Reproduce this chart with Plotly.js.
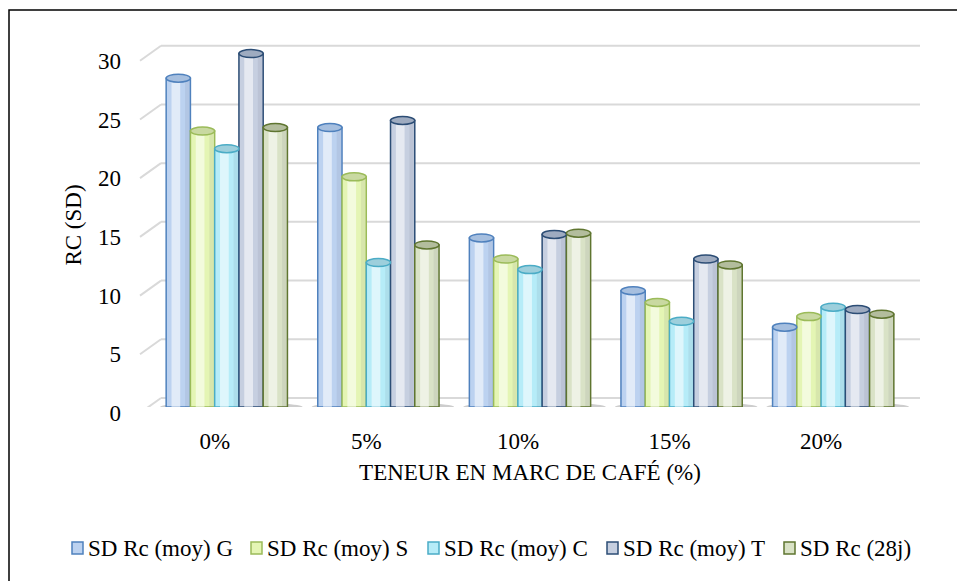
<!DOCTYPE html>
<html>
<head>
<meta charset="utf-8">
<script src="https://cdn.plot.ly/plotly-3.0.1.min.js"></script>
<style>
  html, body { margin: 0; padding: 0; background: #ffffff; }
  #chart { width: 957px; height: 581px; }
</style>
</head>
<body>
<div id="chart"></div>
<script>
// Coffee-ground content (x categories)
const categories = ['0%', '5%', '10%', '15%', '20%'];

// Series names
const seriesNames = ['SD Rc (moy) G', 'SD Rc (moy) S', 'SD Rc (moy) C', 'SD Rc (moy) T', 'SD Rc (28j)'];

// RC (SD) values per series
const rcMoyG = [28.0, 23.8, 14.4, 9.9, 6.8];
const rcMoyS = [23.5, 19.6, 12.6, 8.9, 7.7];
const rcMoyC = [22.0, 12.3, 11.7, 7.3, 8.5];
const rcMoyT = [30.1, 24.4, 14.7, 12.6, 8.3];
const rc28j  = [23.8, 13.8, 14.8, 12.1, 7.9];

// Value-axis ticks
const yTicks = [0, 5, 10, 15, 20, 25, 30];

// Styling: body fill, outline, cap fill
const styles = [
  { fill: '#bcd2f0', line: '#4f81bd', cap: '#a6bfdf' },
  { fill: '#e4f5b4', line: '#9bbb59', cap: '#c9d9a1' },
  { fill: '#b6ecf8', line: '#4bacc6', cap: '#9dcfdc' },
  { fill: '#c6cfe0', line: '#2c4d75', cap: '#9eabc0' },
  { fill: '#d9e2c6', line: '#5f7530', cap: '#b3bd9d' }
];

const seriesValues = [rcMoyG, rcMoyS, rcMoyC, rcMoyT, rc28j];

const FONT = 'Liberation Serif, DejaVu Serif, Noto Serif, Tinos, Times New Roman, Times, serif';
const FS = 23;
const BARGAP = 0.2;
const nSeries = seriesValues.length;
const barW = (1 - BARGAP) / nSeries;

// Plot-area geometry
const W = 957, H = 581;
const M = { l: 151, r: 48, t: 43, b: 174 };
const plotW = W - M.l - M.r;
const plotH = H - M.t - M.b;
const FRONT_X = -11;  // front edge of the floor, relative to plot left (px)
const FRONT_Y = -6;   // front plane, relative to value level (px)
const BACK_X = 10;    // back wall, relative to plot left (px)
const BACK_Y = 9;     // back wall, relative to value level (px)
const GRID_END = 920 - M.l;

const traces = seriesValues.map((vals, s) => ({
  type: 'bar',
  name: seriesNames[s],
  x: categories,
  y: vals,
  marker: {
    color: styles[s].fill,
    line: { color: styles[s].line, width: 1.5 }
  },
  showlegend: false,
  hoverinfo: 'x+y+name'
}));

const shapes = [];

// Back-wall gridlines with their short receding segments
yTicks.forEach(v => {
  shapes.push({
    type: 'line', layer: 'below',
    xref: 'paper', xsizemode: 'pixel', xanchor: 0, x0: FRONT_X, x1: BACK_X,
    yref: 'y', ysizemode: 'pixel', yanchor: v, y0: FRONT_Y, y1: BACK_Y,
    line: { color: '#d9d9d9', width: 2 }
  });
  shapes.push({
    type: 'line', layer: 'below',
    xref: 'paper', xsizemode: 'pixel', xanchor: 0, x0: BACK_X, x1: GRID_END,
    yref: 'y', ysizemode: 'pixel', yanchor: v, y0: BACK_Y, y1: BACK_Y,
    line: { color: '#d9d9d9', width: 2 }
  });
});

// Soft floor shadow under each group
categories.forEach((c, i) => {
  shapes.push({
    type: 'circle', layer: 'below',
    xref: 'x', x0: i - 0.44, x1: i + 0.50,
    yref: 'y', ysizemode: 'pixel', yanchor: 0, y0: -5, y1: 5,
    fillcolor: 'rgba(90,90,90,0.30)', line: { width: 0 }
  });
});

// Cylinder shading (light band + shaded right edge) and elliptical caps
seriesValues.forEach((vals, s) => {
  vals.forEach((v, i) => {
    const center = i - (1 - BARGAP) / 2 + barW * (s + 0.5);
    shapes.push({
      type: 'rect', layer: 'above',
      xref: 'x', x0: center - barW * 0.28, x1: center + barW * 0.08,
      yref: 'y', y0: 0, y1: v,
      fillcolor: 'rgba(255,255,255,0.55)', line: { width: 0 }
    });
    shapes.push({
      type: 'rect', layer: 'above',
      xref: 'x', x0: center + barW * 0.28, x1: center + barW * 0.46,
      yref: 'y', y0: 0, y1: v,
      fillcolor: 'rgba(60,70,90,0.08)', line: { width: 0 }
    });
    shapes.push({
      type: 'circle', layer: 'above',
      xref: 'x', x0: center - barW / 2, x1: center + barW / 2,
      yref: 'y', ysizemode: 'pixel', yanchor: v, y0: -4, y1: 4,
      fillcolor: styles[s].cap,
      line: { color: styles[s].line, width: 1.5 }
    });
  });
});

// Chart frame
shapes.push({
  type: 'path', layer: 'above',
  xref: 'paper', xsizemode: 'pixel', xanchor: 0,
  yref: 'paper', ysizemode: 'pixel', yanchor: 1,
  path: `M ${9 - M.l} ${M.t - H - 5} L ${9 - M.l} ${M.t - 10} L ${W - M.l + 5} ${M.t - 10}`,
  line: { color: '#000000', width: 1.5 }
});

// Legend row: swatch + series name
const legendKeyX = [72, 251, 428, 607, 784];
const legendY = 548;
const annotations = [];
seriesNames.forEach((name, s) => {
  const kx = legendKeyX[s];
  shapes.push({
    type: 'rect', layer: 'above',
    xref: 'paper', xsizemode: 'pixel', xanchor: 0, x0: kx - M.l, x1: kx + 11 - M.l,
    yref: 'paper', ysizemode: 'pixel', yanchor: 0,
    y0: (H - M.b) - (legendY + 6), y1: (H - M.b) - (legendY - 6),
    fillcolor: styles[s].fill,
    line: { color: styles[s].line, width: 1.5 }
  });
  annotations.push({
    xref: 'paper', yref: 'paper',
    x: (kx + 14 - M.l) / plotW, y: ((H - M.b) - legendY) / plotH,
    xanchor: 'left', yanchor: 'middle',
    text: name, showarrow: false,
    font: { family: FONT, size: 23, color: '#000000' }
  });
});

const textFont = { family: FONT, size: FS, color: '#000000' };

const layout = {
  width: W,
  height: H,
  margin: M,
  paper_bgcolor: '#ffffff',
  plot_bgcolor: 'rgba(0,0,0,0)',
  font: textFont,
  barmode: 'group',
  bargap: BARGAP,
  bargroupgap: 0,
  showlegend: false,
  xaxis: {
    type: 'category',
    showgrid: false,
    zeroline: false,
    showline: false,
    ticks: '',
    ticklabelstandoff: 18,
    ticklabelshift: -12,
    tickfont: textFont,
    title: { text: 'TENEUR EN MARC DE CAFÉ (%)', font: textFont, standoff: 10 }
  },
  yaxis: {
    range: [0, 31],
    tickvals: yTicks,
    ticktext: yTicks.map(String),
    showgrid: false,
    zeroline: false,
    showline: false,
    ticks: '',
    ticklabelstandoff: 29,
    ticklabelshift: 6,
    tickfont: textFont,
    title: { text: 'RC (SD)', font: textFont, standoff: 9 }
  },
  shapes: shapes,
  annotations: annotations
};

Plotly.newPlot('chart', traces, layout, { displayModeBar: false, staticPlot: true });
</script>
</body>
</html>
